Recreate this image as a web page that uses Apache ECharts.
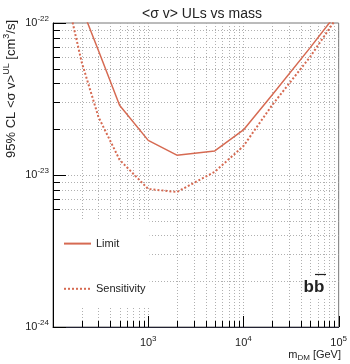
<!DOCTYPE html>
<html>
<head>
<meta charset="utf-8">
<script src="https://cdn.jsdelivr.net/npm/echarts@6/dist/echarts.min.js"></script>
<style>
  html, body { margin: 0; padding: 0; background: #fff; }
  #chart { width: 350px; height: 364px; }
</style>
</head>
<body>
<div id="chart"></div>
<script>
// masses in GeV, cross sections in cm^3/s
const masses = [100, 200, 300, 500, 1000, 2000, 5000, 10000, 20000, 50000, 100000];
const limit = [3.85e-22, 1.26e-22, 6.6e-23, 2.88e-23, 1.69e-23, 1.35e-23, 1.44e-23, 1.98e-23, 3.36e-23, 6.86e-23, 1.2e-22];
const sensitivity = [3.7e-22, 5.53e-23, 2.41e-23, 1.26e-23, 8.09e-24, 7.73e-24, 1.05e-23, 1.55e-23, 2.88e-23, 5.97e-23, 1.13e-22];

const xDecades = [100, 1000, 10000];
const yDecades = [1e-24, 1e-23];

// echarts rounds very small numbers to 0 on log axes, so plot y in units of 1e-24
const Y_UNIT = 1e-24;
const Y_EXP = -24;
const X_MIN = 100, X_MAX = 100000;
const Y_MIN = 1e-24 / Y_UNIT, Y_MAX = 1e-22 / Y_UNIT;

const LINE_COLOR = "#d66a52";
const FONT = "Liberation Sans, Arial, sans-serif";

// minor + major grid positions (1..9 x decade)
function gridValues(decades, last) {
  const out = [];
  decades.forEach((d) => {
    for (let k = 1; k <= 9; k++) out.push([d * k, k === 1 ? 1 : 0]);
  });
  out.push([last, 1]);
  return out;
}

const vData = gridValues(xDecades, X_MAX).map(([v, m]) => [v, 10, m]);
const hData = gridValues(yDecades, 1e-22).map(([v, m]) => [1000, v / Y_UNIT, m]);

const crisp = (n) => Math.round(n) + 0.5;
const GRID_STYLE = { stroke: "#b0b0b0", lineDash: [1, 2], lineWidth: 1 };

function renderV(params, api) {
  const v = api.value(0);
  const major = api.value(2);
  const top = api.coord([v, Y_MAX]);
  const bot = api.coord([v, Y_MIN]);
  const x = crisp(top[0]);
  const children = [];
  if (v > X_MIN * 1.01 && v < X_MAX * 0.99) {
    children.push({ type: "line", shape: { x1: x, y1: top[1], x2: x, y2: bot[1] }, style: GRID_STYLE });
  }
  children.push({
    type: "line",
    shape: { x1: x, y1: bot[1], x2: x, y2: bot[1] - (major ? 11 : 6) },
    style: { stroke: "#000", lineWidth: 1 },
  });
  return { type: "group", children };
}

function renderH(params, api) {
  const v = api.value(1);
  const major = api.value(2);
  const left = api.coord([X_MIN, v]);
  const right = api.coord([X_MAX, v]);
  const y = crisp(left[1]);
  const children = [];
  if (v > Y_MIN * 1.01 && v < Y_MAX * 0.99) {
    children.push({ type: "line", shape: { x1: left[0], y1: y, x2: right[0], y2: y }, style: GRID_STYLE });
  }
  children.push({
    type: "line",
    shape: { x1: left[0], y1: y, x2: left[0] + (major ? 13 : 7), y2: y },
    style: { stroke: "#000", lineWidth: 1 },
  });
  return { type: "group", children };
}

const expLabel = (exp) => "{b|10}{s|" + exp + "}";
const labelRich = {
  b: { fontSize: 11, fontFamily: FONT, color: "#222" },
  s: { fontSize: 8, fontFamily: FONT, color: "#222", padding: [0, 0, 8, 0] },
};

const chart = echarts.init(document.getElementById("chart"));
chart.setOption({
  animation: false,
  backgroundColor: "#fff",
  textStyle: { fontFamily: FONT },
  title: {
    text: "<σ v> ULs vs mass",
    left: 197,
    textAlign: "center",
    top: 2,
    textStyle: { fontSize: 14, fontWeight: "normal", color: "#222", fontFamily: FONT },
  },
  grid: {
    left: 53,
    right: 9,
    top: 23,
    bottom: 37,
    show: true,
    borderColor: "#777",
    borderWidth: 1,
  },
  legend: {
    data: ["Limit", "Sensitivity"],
    orient: "vertical",
    left: 54,
    top: 221,
    width: 96,
    padding: [17, 4, 13, 9],
    itemGap: 34,
    itemWidth: 27,
    itemHeight: 14,
    backgroundColor: "#fff",
    itemStyle: { opacity: 0 },
    textStyle: { fontSize: 11, color: "#222", fontFamily: FONT },
  },
  xAxis: {
    type: "log",
    logBase: 10,
    min: X_MIN,
    max: X_MAX,
    axisLine: { show: true, lineStyle: { color: "#223", width: 1 } },
    axisTick: { show: false },
    splitLine: { show: false },
    axisLabel: {
      margin: 8,
      formatter: (v) => (v <= X_MIN * 1.01 ? "" : expLabel(Math.round(Math.log10(v)))),
      rich: labelRich,
    },
  },
  yAxis: {
    type: "log",
    logBase: 10,
    min: Y_MIN,
    max: Y_MAX,
    axisLine: { show: true, lineStyle: { color: "#000", width: 1 } },
    axisTick: { show: false },
    splitLine: { show: false },
    axisLabel: {
      margin: 4,
      formatter: (v) => expLabel(Math.round(Math.log10(v)) + Y_EXP),
      rich: labelRich,
    },
  },
  graphic: [
    {
      type: "text",
      x: 11,
      y: 20,
      rotation: Math.PI / 2,
      style: {
        text: "95% CL <σ v>{s|UL} [cm{s|3}/s]",
        align: "right",
        verticalAlign: "middle",
        fontSize: 13,
        fontFamily: FONT,
        fill: "#222",
        rich: {
          s: { fontSize: 9, fontFamily: FONT, fill: "#222", padding: [0, 0, 8, 0] },
        },
      },
    },
    {
      type: "text",
      x: 341,
      y: 355,
      style: {
        text: "m{d|DM} [GeV]",
        align: "right",
        verticalAlign: "middle",
        fontSize: 11,
        fontFamily: FONT,
        fill: "#222",
        rich: {
          d: { fontSize: 8, fontFamily: FONT, fill: "#222", padding: [6, 0, 0, 0] },
        },
      },
    },
    {
      type: "text",
      x: 314,
      y: 287,
      z: 10,
      style: {
        text: "bb",
        align: "center",
        verticalAlign: "middle",
        fontSize: 17,
        fontWeight: "bold",
        fontFamily: FONT,
        fill: "#222",
        backgroundColor: "#fff",
        padding: [3, 1, 1, 1],
      },
    },
    {
      type: "line",
      z: 11,
      shape: { x1: 315, y1: 274.5, x2: 326, y2: 274.5 },
      style: { stroke: "#222", lineWidth: 1.2 },
    },
  ],
  series: [
    {
      type: "custom",
      coordinateSystem: "cartesian2d",
      renderItem: renderV,
      data: vData,
      silent: true,
      z: 1,
    },
    {
      type: "custom",
      coordinateSystem: "cartesian2d",
      renderItem: renderH,
      data: hData,
      silent: true,
      z: 1,
    },
    {
      name: "Limit",
      type: "line",
      data: masses.map((m, i) => [m, limit[i] / Y_UNIT]),
      symbol: "none",
      clip: true,
      z: 3,
      lineStyle: { color: LINE_COLOR, width: 1.5 },
      itemStyle: { color: LINE_COLOR },
    },
    {
      name: "Sensitivity",
      type: "line",
      data: masses.map((m, i) => [m, sensitivity[i] / Y_UNIT]),
      symbol: "none",
      clip: true,
      z: 3,
      lineStyle: { color: LINE_COLOR, width: 2, type: [2, 2] },
      itemStyle: { color: LINE_COLOR },
    },
  ],
});
</script>
</body>
</html>
